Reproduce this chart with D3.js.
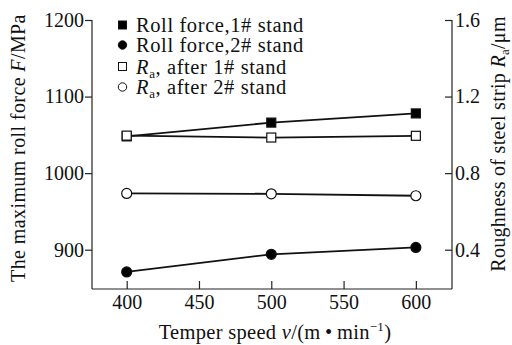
<!DOCTYPE html>
<html><head><meta charset="utf-8">
<script src="https://cdn.jsdelivr.net/npm/d3@7"></script>
</head>
<body style="margin:0;background:#fff"><svg id="c" width="512" height="345"></svg>
<script>
const speeds = [400, 500, 600];
const forceStand1 = [1048, 1066, 1078];
const forceStand2 = [871, 894, 903];
const raStand1 = [0.996, 0.986, 0.995];
const raStand2 = [0.694, 0.692, 0.682];
const xTicks = [400, 450, 500, 550, 600];
const yLeftTicks = [900, 1000, 1100, 1200];
const yRightTicks = [0.4, 0.8, 1.2, 1.6];

const FONT = '"Liberation Serif", "Times New Roman", serif';
const svg = d3.select("#c");
const L = 92, R = 452, T = 20, B = 289;
const x = d3.scaleLinear().domain([376, 625]).range([L, R]);
const yL = d3.scaleLinear().domain([850, 1200]).range([B - 1, T]);
const yR = d3.scaleLinear().domain([0.2, 1.6]).range([B - 1, T]);

const axisStyle = g => {
  g.selectAll("path,line").attr("stroke", "#222").attr("stroke-width", 1.2);
  g.selectAll("text").style("font-family", FONT).style("font-size", "20px").attr("fill", "#111");
};

svg.append("g").attr("transform", `translate(0,${B})`)
  .call(d3.axisBottom(x).tickValues(xTicks).tickSizeInner(-8).tickSizeOuter(0).tickPadding(6))
  .call(axisStyle)
  .call(g => g.select(".domain").attr("d", `M${L},0H${R}`));
svg.append("g").attr("transform", `translate(${L},0)`)
  .call(d3.axisLeft(yL).tickValues(yLeftTicks).tickSize(7).tickSizeOuter(0).tickPadding(1).tickFormat(d3.format("d")))
  .call(axisStyle)
  .call(g => g.select(".domain").attr("d", `M0,${yL(1200)}V${B}`));
svg.append("g").attr("transform", `translate(${R},0)`)
  .call(d3.axisRight(yR).tickValues(yRightTicks).tickSizeInner(-7).tickSizeOuter(0).tickPadding(3).tickFormat(d3.format(".1f")))
  .call(axisStyle)
  .call(g => g.select(".domain").attr("d", `M0,${yR(1.6)}V${B}`));

const line = (ys, sc) => d3.line().x((d, i) => x(speeds[i])).y(d => sc(d))(ys);
const series = [
  {v: raStand1, s: yR, m: "sq", fill: "#fff"},
  {v: raStand2, s: yR, m: "ci", fill: "#fff"},
  {v: forceStand1, s: yL, m: "sq", fill: "#000"},
  {v: forceStand2, s: yL, m: "ci", fill: "#000"}
];
series.forEach(se => {
  svg.append("path").attr("d", line(se.v, se.s)).attr("fill", "none")
    .attr("stroke", "#111").attr("stroke-width", 1.8);
});
[series[2], series[3], series[0], series[1]].forEach(se => {
  se.v.forEach((d, i) => {
    const cx = x(speeds[i]), cy = se.s(d);
    if (se.m === "sq") {
      svg.append("rect").attr("x", cx - 4.5).attr("y", cy - 4.5).attr("width", 9).attr("height", 9)
        .attr("fill", se.fill).attr("stroke", "#111").attr("stroke-width", 1.2);
    } else {
      svg.append("circle").attr("cx", cx).attr("cy", cy).attr("r", 5)
        .attr("fill", se.fill).attr("stroke", "#111").attr("stroke-width", 1.2);
    }
  });
});

const txt = sel => sel.style("font-family", FONT).attr("fill", "#111");

const legend = [
  {m: "sq", fill: "#000", t: "Roll force,1# stand"},
  {m: "ci", fill: "#000", t: "Roll force,2# stand"},
  {m: "sq", fill: "#fff", ra: true, t: ", after 1# stand"},
  {m: "ci", fill: "#fff", ra: true, t: ", after 2# stand"}
];
const legY = [25, 45, 66.5, 87];
legend.forEach((d, i) => {
  const ly = legY[i], lx = 122.5;
  if (d.m === "sq") svg.append("rect").attr("x", lx - 4).attr("y", ly - 4).attr("width", 8).attr("height", 8)
    .attr("fill", d.fill).attr("stroke", "#111").attr("stroke-width", 1);
  else svg.append("circle").attr("cx", lx).attr("cy", ly).attr("r", 4.2)
    .attr("fill", d.fill).attr("stroke", "#111").attr("stroke-width", 1);
  const t = svg.append("text").attr("x", 136).attr("y", ly + 7).style("font-size", "20.5px")
    .style("letter-spacing", "0.6px").call(txt);
  if (d.ra) {
    t.append("tspan").style("font-style", "italic").text("R");
    t.append("tspan").attr("dy", 4).style("font-size", "13px").text("a");
    t.append("tspan").attr("dy", -4).text(d.t);
  } else t.text(d.t);
});

const yt = svg.append("text").attr("transform", `translate(25,148) rotate(-90)`)
  .attr("text-anchor", "middle").style("font-size", "20px").style("letter-spacing", "0.4px").call(txt);
yt.append("tspan").text("The maximum roll force ");
yt.append("tspan").style("font-style", "italic").text("F");
yt.append("tspan").text("/MPa");

const rt = svg.append("text").attr("transform", `translate(505,144) rotate(-90)`)
  .attr("text-anchor", "middle").style("font-size", "20px").style("letter-spacing", "0.3px").call(txt);
rt.append("tspan").text("Roughness of steel strip ");
rt.append("tspan").style("font-style", "italic").text("R");
rt.append("tspan").attr("dy", 4).style("font-size", "13px").text("a");
rt.append("tspan").attr("dy", -4).text("/\u03bcm");

const xt = svg.append("text").attr("x", 275).attr("y", 339).attr("text-anchor", "middle")
  .style("font-size", "20.5px").style("letter-spacing", "0.3px").call(txt);
xt.append("tspan").text("Temper speed ");
xt.append("tspan").style("font-style", "italic").text("v");
xt.append("tspan").text("/(m\u2009\u2022\u2009min");
xt.append("tspan").attr("dy", -8).style("font-size", "13px").text("\u22121");
xt.append("tspan").attr("dy", 8).text(")");
</script></body></html>
